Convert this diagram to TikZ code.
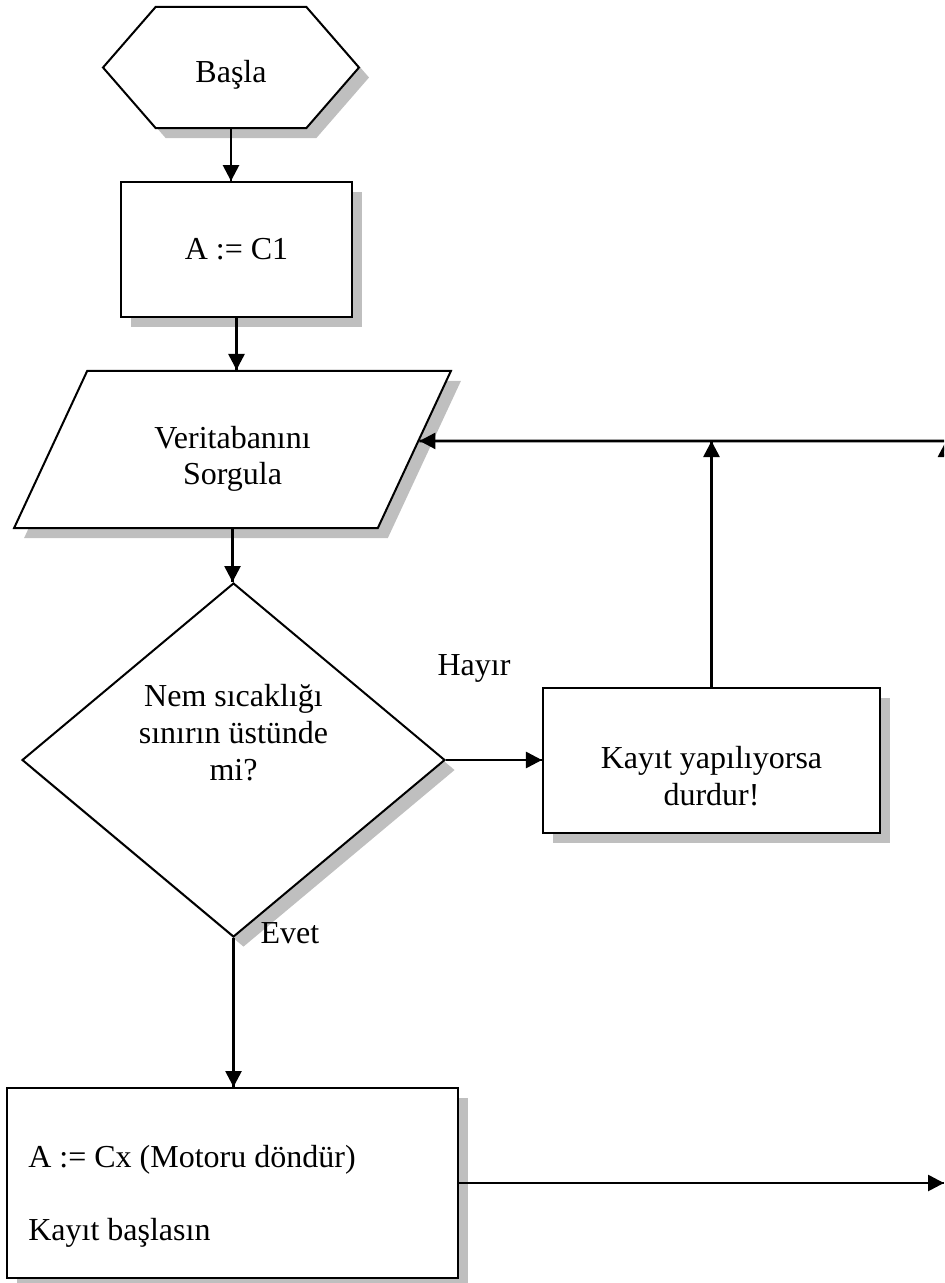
\documentclass[tikz,border=0pt]{standalone}
\usepackage{fontspec}
\setmainfont{Liberation Serif}
\usetikzlibrary{arrows.meta}
\usetikzlibrary{decorations.markings}
\usetikzlibrary{shapes.geometric}
\usetikzlibrary{shapes.symbols}
\usetikzlibrary{shadows}
\usetikzlibrary{calc}
\tikzset{->/.style = {decoration={markings,
                                  mark=at position 1 with {\arrow{Triangle[length=6pt, width=6pt]}}},
                      postaction={decorate}}}
\tikzset{every node/.style = {font=\fontsize{12pt}{13.8pt}\selectfont}}
\tikzset{block/.style = {draw, line width=0.75pt, fill=white, align=center, inner sep=0pt,
                         drop shadow={shadow xshift=3.75pt, shadow yshift=-3.75pt,
                                      fill=black!25, opacity=1}}}
\tikzset{startblock/.style = {block, signal, signal to=west and east, signal pointer angle=98}}
\tikzset{process/.style = {block, rectangle}}
\tikzset{io/.style = {block, trapezium, trapezium left angle=61, trapezium right angle=119,
                      trapezium stretches=true}}
\tikzset{decision/.style = {block, diamond, aspect=1.2}}

\begin{document}
\begin{tikzpicture}[x=0.375pt, y=-0.375pt, line width=1pt]
    \useasboundingbox (0, 0) rectangle (944, 1283);
    \clip (0, 0) rectangle (944, 1283);

    \node [startblock, minimum width=96pt, minimum height=45.4pt, text height=11.6pt, text depth=0pt] (start) at (231, 67.5) {Başla};
    \node [process, minimum width=86.6pt, minimum height=50.6pt] (init) at (236.5, 249.5) {A := C1};
    \node [io, minimum width=164.6pt, minimum height=58.9pt, text height=26.6pt, text depth=0pt] (query) at (232.5, 449.5) {Veritabanını\\Sorgula};
    \node [decision, minimum width=158.6pt, minimum height=132.75pt, text height=36pt, text depth=21pt] (check) at (233.5, 760) {Nem sıcaklığı\\sınırın üstünde\\mi?};
    \node [process, minimum width=126.4pt, minimum height=54.4pt, text height=33.4pt, text depth=0pt] (stop) at (711.5, 760.5) {Kayıt yapılıyorsa\\durdur!};
    \node [process, minimum width=169.1pt, minimum height=71.25pt] (run) at (232.5, 1183) {};
    \node [anchor=base west, inner sep=0pt] (runcx) at (27, 1167) {A := Cx (Motoru döndür)};
    \node [anchor=base west, inner sep=0pt] (runrec) at (27, 1240) {Kayıt başlasın};

    \node (no) at (474, 668) {Hayır};
    \node (yes) at (290, 933) {Evet};

    \coordinate (rim) at (946, 441);
    \coordinate (below) at (946, 560);
    \coordinate (out) at (944, 1186);
    \coordinate (back) at ($(query.top right corner)!0.446!(query.bottom right corner)$);

    \draw [->] (start.south) -- (start.south |- init.north);
    \draw [->] (init.south) -- (init.south |- query.north);
    \draw [->] (query.south) -- (query.south |- check.north);
    \draw [->] (check.east) -- (check.east -| stop.west);
    \draw [->] (check.south) -- (check.south |- run.north);
    \draw [->] (stop.north) -- (stop.north |- rim);
    \draw [->] (rim) -- (back);
    \draw [->] (below) -- (rim);
    \draw [->] (run.east) -- (run.east -| out);
\end{tikzpicture}
\end{document}
